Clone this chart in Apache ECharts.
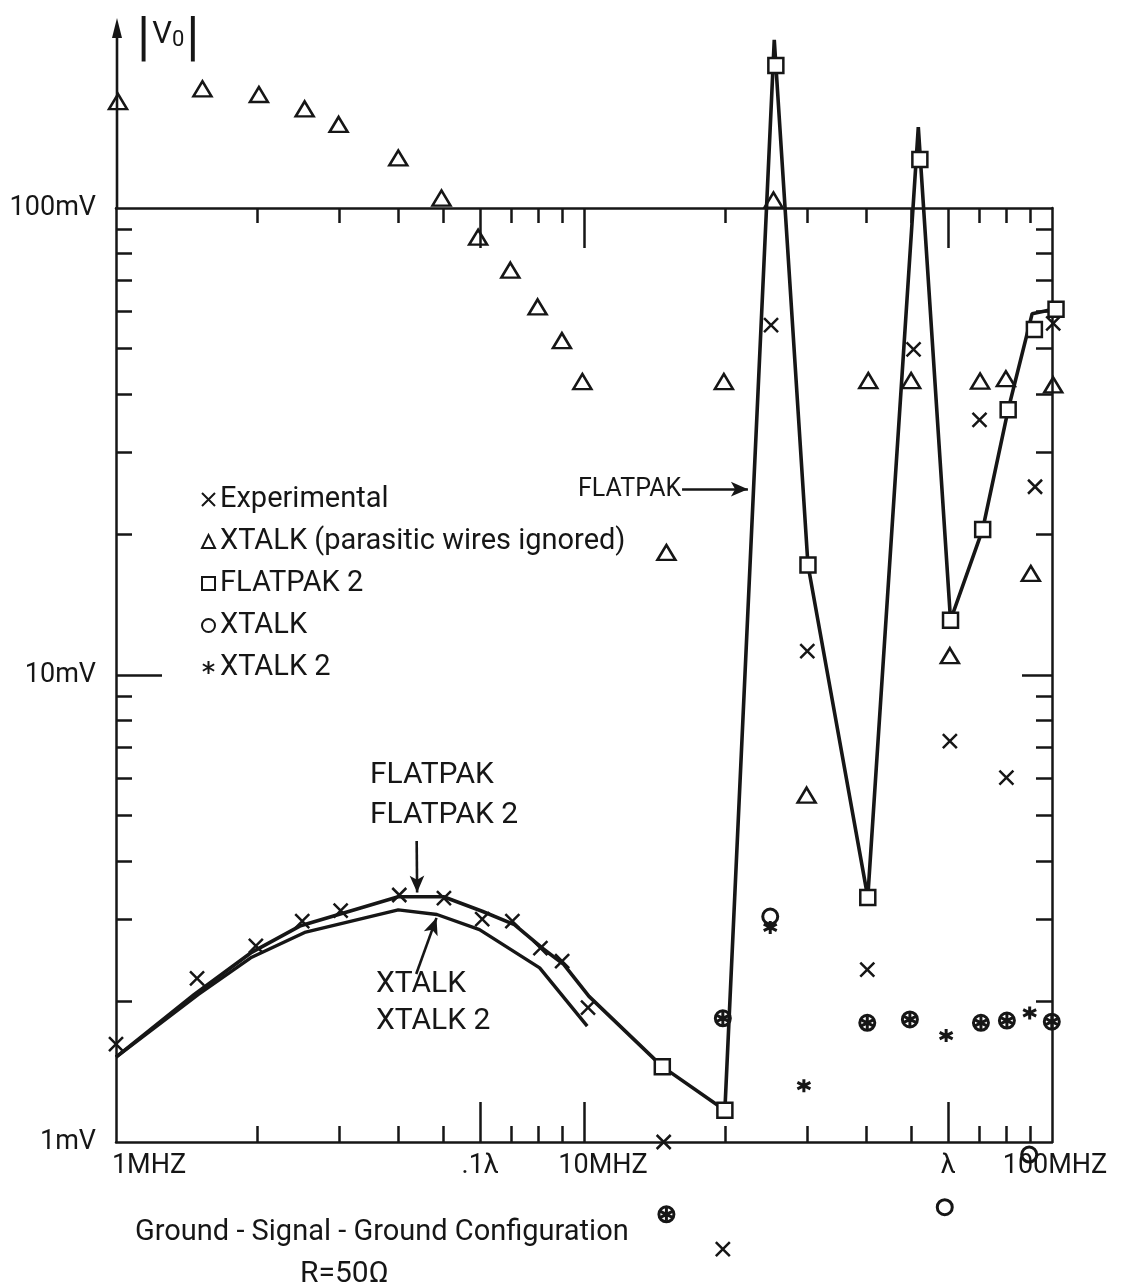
<!DOCTYPE html>
<html><head><meta charset="utf-8">
<script src="https://cdn.jsdelivr.net/npm/echarts@6/dist/echarts.min.js"></script>
<style>html,body{margin:0;padding:0;background:#fff}#c{width:1143px;height:1285px}</style>
</head><body><div id="c"></div>
<script>
// ---- data (frequency in MHz, |Vo| in mV) ----
const expFreq = [1.0, 1.49, 1.99, 2.50, 3.02, 4.03, 5.02, 6.06, 7.03, 8.07, 8.98, 10.2, 14.8, 19.8, 25.1, 30.0, 40.3, 50.6, 60.5, 70.0, 79.9, 92.0, 100.6];
const expV    = [1.62, 2.24, 2.63, 2.97, 3.13, 3.38, 3.33, 3.00, 2.97, 2.60, 2.44, 1.94, 1.0, 0.59, 56.1, 11.25, 2.34, 49.8, 7.22, 35.2, 6.03, 25.3, 56.6];

const xtalkPwFreq = [1.01, 1.53, 2.02, 2.53, 2.99, 4.01, 4.96, 5.94, 6.96, 7.96, 8.97, 9.92, 15.0, 19.9, 25.4, 29.9, 40.5, 50.0, 60.5, 70.2, 79.7, 90.1, 100.6];
const xtalkPwV    = [169, 180, 175, 163, 151, 128, 105, 86.6, 73.6, 61.4, 52.0, 42.5, 18.3, 42.5, 104, 5.53, 42.7, 42.7, 11.0, 42.6, 43.1, 16.5, 41.8];

const flatpak2Freq = [14.7, 20.0, 25.7, 30.1, 40.4, 52.2, 60.7, 71.1, 80.6, 91.7, 102];
const flatpak2V    = [1.45, 1.17, 202, 17.2, 3.34, 127, 13.1, 20.5, 37.0, 54.9, 60.7];

const xtalkFreq = [15.0, 19.8, 25.0, 40.3, 49.7, 59.0, 70.5, 80.1, 89.4, 99.9];
const xtalkV    = [0.70, 1.84, 3.04, 1.80, 1.83, 0.725, 1.80, 1.82, 0.94, 1.81];

const xtalk2Freq = [15.0, 19.8, 25.0, 29.5, 40.3, 49.7, 59.4, 70.5, 80.1, 89.6, 99.9];
const xtalk2V    = [0.70, 1.84, 2.88, 1.32, 1.80, 1.83, 1.69, 1.80, 1.82, 1.89, 1.81];

const flatpakLineFreq = [1.0, 1.47, 1.94, 2.47, 2.99, 4.01, 5.01, 6.06, 7.10, 8.15, 9.05, 10.25, 14.7, 20.0, 25.5, 30.1, 40.4, 51.8, 60.7, 71.1, 80.6, 90.7, 100.6];
const flatpakLineV    = [1.52, 2.07, 2.54, 2.90, 3.07, 3.35, 3.35, 3.12, 2.92, 2.60, 2.40, 2.05, 1.45, 1.17, 229, 17.2, 3.34, 149, 13.1, 20.5, 37.0, 59.4, 60.7];

const xtalkLineFreq = [1.0, 1.50, 1.94, 2.53, 4.01, 4.85, 5.98, 8.04, 10.16];
const xtalkLineV    = [1.52, 2.07, 2.48, 2.81, 3.14, 3.07, 2.85, 2.36, 1.77];

// ---- ticks and tick labels ----
const xMinorTicks = [2, 3, 4, 5, 7, 8, 9, 20, 30, 40, 50, 70, 80, 90];
const xMajorTicks = [6, 10, 60];
const yMinorTicks = [2, 3, 4, 5, 6, 7, 8, 9, 20, 30, 40, 50, 60, 70, 80, 90];
const yMajorTicks = [10];
const xLabelValues = [1, 6, 10, 60, 100];
const xLabelTexts  = ['1MHZ', '.1λ', '10MHZ', 'λ', '100MHZ'];
const yLabelValues = [1, 10, 100];
const yLabelTexts  = ['1mV', '10mV', '100mV'];

// annotation arrows (data coordinates)
const arrowFlatpak = [[4.39, 4.41], [4.40, 3.42]];
const arrowXtalk   = [[4.38, 2.29], [4.84, 3.02]];
const arrowRight   = [[16.2, 25.0], [22.4, 25.0]];

const INK = '#161616';
const FONT = 'Roboto, "DejaVu Sans", sans-serif';
const pairs = (fx, vy) => fx.map((f, i) => [f, vy[i]]);
const crossPath = 'path://M0,0L10,10M10,0L0,10';
const starPath = 'path://M5,0L5,10M0.67,2.5L9.33,7.5M0.67,7.5L9.33,2.5';

function nearestIdx(vals, v) {
  let best = 0, bd = Infinity;
  vals.forEach((t, i) => { const d = Math.abs(Math.log10(t) - Math.log10(v)); if (d < bd) { bd = d; best = i; } });
  return best;
}
const xPadKeys = ['p0', 'p1', 'p2', 'p3', 'p4'];

function xAxisDef(pos, ticks, len, showLine, labels) {
  return {
    type: 'log', logBase: 10, min: 1, max: 100, position: pos, gridIndex: 0,
    axisLine: { show: showLine, onZero: false, lineStyle: { color: INK, width: 2.5 } },
    axisTick: { show: true, inside: true, length: len, customValues: ticks, lineStyle: { color: INK, width: 2.5 } },
    axisLabel: labels ? {
      show: true, customValues: xLabelValues, margin: 11, color: INK, fontFamily: FONT, fontSize: 27,
      formatter: v => { const i = nearestIdx(xLabelValues, v); return '{' + xPadKeys[i] + '|' + xLabelTexts[i] + '}'; },
      rich: {
        p0: { padding: [0, 0, 0, 66], fontSize: 27, fontFamily: FONT, color: INK },
        p1: { padding: [0, 0, 0, 0], fontSize: 27, fontFamily: FONT, color: INK },
        p2: { padding: [0, 0, 0, 38], fontSize: 27, fontFamily: FONT, color: INK },
        p3: { padding: [0, 0, 0, 0], fontSize: 27, fontFamily: FONT, color: INK },
        p4: { padding: [0, 0, 0, 6], fontSize: 27, fontFamily: FONT, color: INK }
      }
    } : { show: false },
    splitLine: { show: false }, minorTick: { show: false }, minorSplitLine: { show: false }
  };
}
function yAxisDef(pos, ticks, len, showLine, labels) {
  return {
    type: 'log', logBase: 10, min: 1, max: 100, position: pos, gridIndex: 0,
    axisLine: { show: showLine, onZero: false, lineStyle: { color: INK, width: 2.5 } },
    axisTick: { show: true, inside: true, length: len, customValues: ticks, lineStyle: { color: INK, width: 2.5 } },
    axisLabel: labels ? {
      show: true, customValues: yLabelValues, margin: 20, color: INK, fontFamily: FONT, fontSize: 27,
      formatter: v => yLabelTexts[nearestIdx(yLabelValues, v)]
    } : { show: false },
    splitLine: { show: false }, minorTick: { show: false }, minorSplitLine: { show: false }
  };
}

function scatter(name, data, symbol, size, fill, bw, z) {
  return {
    name, type: 'scatter', data, symbol, symbolSize: size, clip: false, silent: true, z: z || 5,
    itemStyle: { color: fill, borderColor: INK, borderWidth: bw, opacity: 1 },
    emphasis: { disabled: true }
  };
}
function arrowPair(a, sym) {
  return [{ coord: a[0], symbol: 'none' }, { coord: a[1], symbol: sym }];
}

const chart = echarts.init(document.getElementById('c'), null, { renderer: 'canvas', width: 1143, height: 1285 });
const textStyleBase = { fill: INK, fontFamily: FONT };

chart.setOption({
  animation: false,
  backgroundColor: '#ffffff',
  grid: { left: 116, top: 208, width: 936, height: 934, containLabel: false, outerBoundsMode: 'none' },
  xAxis: [
    xAxisDef('bottom', xMinorTicks, 16, true, true),
    xAxisDef('bottom', xMajorTicks, 40, false, false),
    xAxisDef('top', xMinorTicks, 15, true, false),
    xAxisDef('top', xMajorTicks, 40, false, false)
  ],
  yAxis: [
    yAxisDef('left', yMinorTicks, 16, true, true),
    yAxisDef('left', yMajorTicks, 46, false, false),
    yAxisDef('right', yMinorTicks, 16, true, false),
    yAxisDef('right', yMajorTicks, 30, false, false)
  ],
  legend: {
    orient: 'vertical', left: 196, top: 480,
    itemWidth: 13, itemHeight: 13, itemGap: 13, selectedMode: false,
    textStyle: { fontFamily: FONT, fontSize: 29, color: INK, lineHeight: 29 },
    data: [
      { name: 'Experimental', icon: crossPath },
      { name: 'XTALK (parasitic wires ignored)', icon: 'triangle' },
      { name: 'FLATPAK 2', icon: 'rect' },
      { name: 'XTALK', icon: 'circle' },
      { name: 'XTALK 2', icon: starPath }
    ]
  },
  series: [
    {
      name: 'FLATPAK curve', type: 'line', data: pairs(flatpakLineFreq, flatpakLineV),
      symbol: 'none', clip: false, silent: true, z: 3,
      lineStyle: { color: INK, width: 3.6 }, emphasis: { disabled: true },
      markLine: {
        silent: true, symbolSize: [11, 17], animation: false,
        lineStyle: { color: INK, width: 2.6, type: 'solid' }, label: { show: false },
        emphasis: { disabled: true },
        data: [arrowPair(arrowFlatpak, 'arrow'), arrowPair(arrowXtalk, 'arrow'), arrowPair(arrowRight, 'arrow')]
      }
    },
    {
      name: 'XTALK curve', type: 'line', data: pairs(xtalkLineFreq, xtalkLineV),
      symbol: 'none', clip: false, silent: true, z: 3,
      lineStyle: { color: INK, width: 3.4 }, emphasis: { disabled: true }
    },
    scatter('Experimental', pairs(expFreq, expV), crossPath, 14, 'transparent', 2.5, 6),
    scatter('XTALK (parasitic wires ignored)', pairs(xtalkPwFreq, xtalkPwV), 'triangle', [18, 15], 'transparent', 2.5, 6),
    scatter('FLATPAK 2', pairs(flatpak2Freq, flatpak2V), 'rect', 15, '#ffffff', 2.5, 7),
    scatter('XTALK', pairs(xtalkFreq, xtalkV), 'circle', 15, 'transparent', 3, 6),
    scatter('XTALK 2', pairs(xtalk2Freq, xtalk2V), starPath, 13, 'transparent', 3, 6)
  ],
  graphic: [
    // vertical |Vo| axis extension above the 100 mV line, with arrow head
    { type: 'line', silent: true, shape: { x1: 117, y1: 208, x2: 117, y2: 34 }, style: { stroke: INK, lineWidth: 2.6 } },
    { type: 'polygon', silent: true, shape: { points: [[117, 18], [112, 38], [122, 38]] }, style: { fill: INK } },
    { type: 'text', x: 137, y: 12, silent: true, style: {
        text: '{b||}{v|V}{s|0}{b||}', fill: INK,
        rich: {
          b: { fontSize: 54, fontFamily: FONT, lineHeight: 56, fill: INK },
          v: { fontSize: 31, fontFamily: FONT, fill: INK, padding: [0, 0, 10, 2] },
          s: { fontSize: 22, fontFamily: FONT, fill: INK, padding: [0, 2, 0, 0] }
        } } },
    { type: 'text', x: 578, y: 477, silent: true, style: Object.assign({ text: 'FLATPAK', fontSize: 25 }, textStyleBase) },
    { type: 'text', x: 370, y: 760, silent: true, style: Object.assign({ text: 'FLATPAK', fontSize: 30 }, textStyleBase) },
    { type: 'text', x: 370, y: 800, silent: true, style: Object.assign({ text: 'FLATPAK 2', fontSize: 30 }, textStyleBase) },
    { type: 'text', x: 376, y: 969, silent: true, style: Object.assign({ text: 'XTALK', fontSize: 30 }, textStyleBase) },
    { type: 'text', x: 376, y: 1006, silent: true, style: Object.assign({ text: 'XTALK 2', fontSize: 30 }, textStyleBase) },
    { type: 'text', x: 135, y: 1218, silent: true, style: Object.assign({ text: 'Ground - Signal - Ground Configuration', fontSize: 29 }, textStyleBase) },
    { type: 'text', x: 300, y: 1259, silent: true, style: Object.assign({ text: 'R=50Ω', fontSize: 30 }, textStyleBase) }
  ]
});
</script>
</body></html>
